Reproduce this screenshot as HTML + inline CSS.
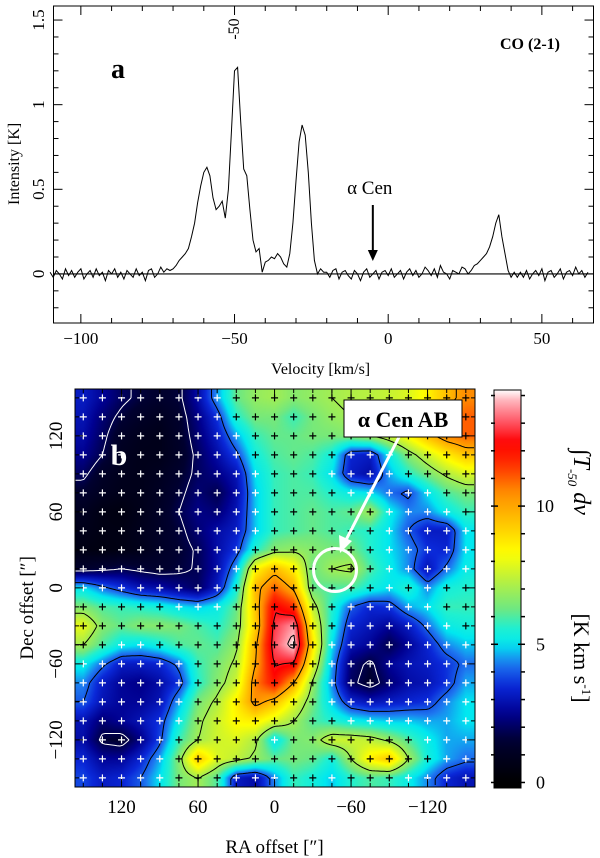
<!DOCTYPE html>
<html><head><meta charset="utf-8">
<style>
html,body{margin:0;padding:0;background:#fff;}
#wrap{position:relative;width:600px;height:858px;overflow:hidden;font-family:"Liberation Serif",serif;}
svg{position:absolute;left:0;top:0;}
canvas{position:absolute;}
</style></head>
<body>
<div id="wrap">
<canvas id="heat" width="400" height="398" style="left:75px;top:389px;width:400px;height:398px"></canvas>
<svg id="svg" width="600" height="858" viewBox="0 0 600 858"></svg>
</div>
<script>
// ---------- Spectrum data (velocity sampled every 1 km/s from -110) ----------
const velStart = -110;
const intensity = [
0.01,-0.02,0.02,0.0,-0.03,0.03,-0.01,0.02,-0.02,0.01,0.03,-0.03,0.0,0.02,-0.02,0.03,-0.01,0.01,-0.04,0.02,
0.0,0.03,-0.02,0.01,-0.03,0.02,0.0,-0.02,0.03,-0.01,0.01,-0.04,0.02,0.03,-0.02,0.0,0.04,0.01,0.03,0.02,
0.03,0.05,0.08,0.1,0.12,0.15,0.22,0.3,0.42,0.52,0.6,0.63,0.58,0.45,0.38,0.4,0.43,0.33,0.5,0.85,
1.2,1.22,0.9,0.62,0.58,0.38,0.2,0.13,0.15,0.01,
0.07,0.08,0.1,0.09,0.12,0.1,0.06,0.04,0.12,0.3,0.55,0.78,0.88,0.82,0.6,0.3,0.08,0.0,0.03,0.01,
0.01,-0.02,0.02,0.03,-0.03,0.01,0.02,-0.01,-0.03,0.02,0.0,-0.04,0.01,0.03,-0.02,0.0,0.02,-0.03,0.01,0.02,
-0.01,0.03,-0.02,0.0,0.02,-0.03,0.01,0.03,-0.01,0.02,-0.02,0.0,0.04,0.02,-0.01,0.03,-0.02,0.05,0.01,0.0,
-0.03,0.02,0.01,0.0,0.04,
0.03,0.0,0.02,0.05,0.06,0.08,0.1,0.12,0.16,0.22,0.3,0.35,0.22,0.12,0.02,-0.02,0.01,-0.02,
0.01,-0.02,0.02,-0.03,0.0,0.02,-0.01,0.03,-0.04,0.01,0.02,-0.02,0.0,0.03,-0.03,0.01,0.02,-0.01,0.04,0.0,0.02,-0.02,0.01
];
const xTicks = [-100,-50,0,50];
const yTicks = [0,0.5,1,1.5];
const yTickLabels = ["0","0.5","1","1.5"];

// ---------- Map data (rows Dec 150..-150, cols RA 150..-150, step 15") ----------
const raGrid = [150,135,120,105,90,75,60,45,30,15,0,-15,-30,-45,-60,-75,-90,-105,-120,-135,-150];
const decGrid = [150,135,120,105,90,75,60,45,30,15,0,-15,-30,-45,-60,-75,-90,-105,-120,-135,-150];
const mapValues = [
[3.2,2.6,2.0,1.6,1.4,1.6,2.8,4.5,6.2,6.8,7.0,6.6,6.8,7.0,7.2,7.3,7.5,7.8,8.5,9.5,10.5],
[3.0,2.2,1.6,1.2,1.0,1.4,2.4,3.6,5.6,6.4,6.4,5.8,6.4,6.8,7.0,7.2,7.6,8.2,9.2,10.5,11.0],
[2.8,2.0,1.2,0.9,0.8,1.3,2.2,3.2,4.6,5.8,6.2,6.2,6.4,6.4,6.6,7.0,7.6,8.4,9.6,10.6,11.0],
[2.5,1.8,1.0,0.8,0.8,1.2,2.0,2.8,3.8,5.4,6.0,6.2,6.0,5.4,3.4,3.2,5.2,6.6,7.6,8.6,9.4],
[2.0,1.2,0.9,0.8,1.0,1.4,2.0,2.4,3.0,5.0,5.8,6.0,5.8,5.0,3.2,2.8,4.6,5.6,6.4,7.2,7.8],
[1.4,1.0,0.8,0.8,1.1,1.6,2.2,1.8,2.8,4.8,5.8,6.0,6.0,5.6,5.2,5.0,4.2,3.8,5.0,6.0,6.4],
[1.0,0.6,0.5,0.8,1.2,1.8,2.4,2.2,3.0,4.8,5.8,6.0,6.2,6.0,6.2,7.0,5.2,4.4,4.4,5.2,5.8],
[0.8,0.6,0.6,0.9,1.2,1.6,2.2,2.8,3.2,4.8,5.8,6.0,6.2,6.0,5.8,5.6,5.0,4.0,3.2,3.2,5.0],
[0.6,0.5,0.6,0.8,1.2,1.5,1.9,2.8,3.6,5.6,6.6,6.8,6.6,6.4,6.4,5.6,5.0,4.4,3.6,3.4,5.0],
[1.4,1.6,1.8,1.6,1.4,1.6,1.9,2.8,4.6,8.4,9.6,8.6,6.2,7.0,7.2,6.0,5.2,4.4,3.0,4.2,5.2],
[5.0,4.2,3.6,3.0,2.8,2.4,2.0,3.2,5.4,9.6,11.0,9.8,6.2,6.0,6.0,5.4,5.0,5.6,4.4,5.4,5.6],
[6.5,6.0,5.8,5.6,5.4,5.0,4.8,5.2,6.2,9.4,12.4,11.6,7.4,5.6,4.0,3.4,3.6,4.6,5.0,5.8,5.8],
[8.0,6.6,6.2,6.6,6.6,6.4,6.0,5.6,6.4,9.2,12.8,13.6,8.2,5.4,3.4,3.0,2.6,3.2,4.2,5.2,5.4],
[7.0,6.0,5.2,5.0,5.4,6.0,6.2,6.0,6.8,9.8,13.0,14.2,8.8,5.0,3.0,2.6,1.8,2.6,3.4,4.4,4.8],
[5.2,4.2,3.2,3.2,3.4,4.2,5.8,6.4,7.2,10.0,12.6,12.4,8.0,4.6,2.2,1.6,2.6,3.0,3.2,3.6,4.2],
[4.4,3.2,2.6,2.4,2.8,3.6,5.6,6.6,7.6,10.6,12.0,10.0,6.8,4.4,2.0,1.4,2.2,2.8,3.0,3.6,4.6],
[4.0,3.0,2.6,2.6,3.0,4.6,6.4,7.2,8.6,10.4,9.6,8.0,6.4,4.8,3.4,3.0,3.2,3.4,3.6,4.4,5.0],
[3.0,2.2,2.6,3.0,3.6,5.2,6.8,7.6,8.4,8.6,7.8,7.0,6.0,5.6,5.2,5.0,4.8,4.8,4.6,4.6,5.0],
[2.8,1.6,1.4,2.4,3.8,5.8,7.0,7.6,7.8,7.2,5.0,6.4,6.6,7.6,7.6,7.4,6.8,6.0,5.2,4.6,4.6],
[3.4,2.6,2.6,3.4,4.6,6.6,9.4,7.8,7.4,6.8,6.2,6.4,6.2,5.4,7.0,8.6,9.4,7.0,5.4,4.6,4.2],
[3.8,3.2,3.4,4.0,5.0,6.4,7.0,6.0,3.2,2.8,4.4,5.8,5.4,4.8,5.6,6.0,5.8,5.2,4.4,3.4,3.0]
];
const blackLevels = [4, 7, 10, 12.5, 13.8];
const whiteLevels = [1.8];
const raTicks = [120,60,0,-60,-120];
const decTicks = [120,60,0,-60,-120];
const cbTicks = [0,5,10];

const NS = "http://www.w3.org/2000/svg";
const svg = document.getElementById('svg');
function mk(tag, attrs, parent, name, inter) {
  const e = document.createElementNS(NS, tag);
  for (const k in attrs) e.setAttribute(k, attrs[k]);
  
  
  (parent || svg).appendChild(e);
  return e;
}
function txt(x, y, s, attrs, name) {
  const t = mk('text', Object.assign({x: x, y: y, 'font-family': '"Liberation Serif",serif', 'font-size': 16, fill: '#000'}, attrs || {}), svg, name, false);
  t.textContent = s;
  return t;
}

// ================= Panel a: spectrum =================
const A = {l: 53.5, r: 593.5, t: 6, b: 323, vmin: -108.9, vmax: 66.8, imin: -0.29, imax: 1.583};
const xs = v => A.l + (v - A.vmin) / (A.vmax - A.vmin) * (A.r - A.l);
const ys = i => A.b - (i - A.imin) / (A.imax - A.imin) * (A.b - A.t);
mk('rect', {x: A.l, y: A.t, width: A.r - A.l, height: A.b - A.t, fill: 'none', stroke: '#000', 'stroke-width': 1}, svg, 'spectrum-frame', false);
for (let v = -100; v <= 65; v += 10) {
  const len = (v % 50 === 0) ? 9 : 5;
  mk('line', {x1: xs(v), x2: xs(v), y1: A.b, y2: A.b - len, stroke: '#000'}, svg, 'x-tick', false);
  mk('line', {x1: xs(v), x2: xs(v), y1: A.t, y2: A.t + len, stroke: '#000'}, svg, 'x-tick-top', false);
}
for (let k = -2; k <= 15; k++) {
  const i = k / 10, len = (k % 5 === 0) ? 9 : 5;
  mk('line', {x1: A.l, x2: A.l + len, y1: ys(i), y2: ys(i), stroke: '#000'}, svg, 'y-tick', false);
  mk('line', {x1: A.r, x2: A.r - len, y1: ys(i), y2: ys(i), stroke: '#000'}, svg, 'y-tick-right', false);
}
xTicks.forEach(v => txt(xs(v), 344, (v < 0 ? '\u2212' + (-v) : String(v)), {'text-anchor': 'middle', 'font-size': 17}, 'x-tick-label'));
yTicks.forEach((v, k) => txt(0, 0, yTickLabels[k], {'text-anchor': 'middle', transform: `translate(44,${ys(v)}) rotate(-90)`, 'font-size': 17}, 'y-tick-label'));
txt(0, 0, 'Intensity [K]', {'text-anchor': 'middle', transform: `translate(19,${ys(0.65)}) rotate(-90)`, 'font-size': 16}, 'y-axis-title');
txt(xs(-22), 374, 'Velocity   [km/s]', {'text-anchor': 'middle', 'font-size': 16, 'xml:space': 'preserve'}, 'x-axis-title');
mk('line', {x1: A.l, x2: A.r, y1: ys(0), y2: ys(0), stroke: '#000', 'stroke-width': 1.2}, svg, 'zero-baseline', false);
let d = '';
intensity.forEach((t, i) => { d += (i ? 'L' : 'M') + xs(velStart + i).toFixed(1) + ',' + ys(t).toFixed(1); });
mk('path', {d: d, fill: 'none', stroke: '#000', 'stroke-width': 1}, svg, 'spectrum-line', false);
txt(118, 78, 'a', {'font-weight': 'bold', 'font-size': 28, 'text-anchor': 'middle'}, 'panel-a-label');
txt(530, 49, 'CO (2-1)', {'font-weight': 'bold', 'font-size': 16, 'text-anchor': 'middle'}, 'line-label');
txt(0, 0, '-50', {'text-anchor': 'middle', transform: `translate(${xs(-50.5)+6},29) rotate(-90)`, 'font-size': 16}, 'peak-label');
txt(xs(-6), 194, '\u03b1 Cen', {'text-anchor': 'middle', 'font-size': 19}, 'alpha-cen-label');
mk('line', {x1: xs(-5), x2: xs(-5), y1: 205, y2: 252, stroke: '#000', 'stroke-width': 2}, svg, 'alpha-cen-arrow', false);
mk('path', {d: `M${xs(-5)-5},250 L${xs(-5)+5},250 L${xs(-5)},261 Z`, fill: '#000'}, svg, 'alpha-cen-arrowhead', false);

// ================= Panel b: map =================
const M = {l: 75, r: 475, t: 389, b: 787, ra0: 156.5, ra1: -157.2, de0: 157, de1: -157.2};
const mx = ra => M.l + (M.ra0 - ra) / (M.ra0 - M.ra1) * (M.r - M.l);
const my = de => M.t + (M.de0 - de) / (M.de0 - M.de1) * (M.b - M.t);
const stops = [[0,[0,0,0]],[1.5,[0,0,48]],[2.5,[0,0,144]],[3.5,[10,40,216]],[4.3,[30,120,240]],[5,[0,232,240]],[5.6,[32,240,208]],[6.3,[112,232,128]],[7.3,[184,240,64]],[8.3,[255,255,0]],[9.5,[255,192,0]],[10.5,[255,140,0]],[11.5,[255,48,0]],[12.3,[255,0,0]],[13,[255,80,96]],[13.8,[255,176,184]],[14.2,[255,255,255]]];
function cmap(v) {
  if (v <= stops[0][0]) return stops[0][1];
  for (let i = 1; i < stops.length; i++) {
    if (v <= stops[i][0]) {
      const a = stops[i-1], b = stops[i], f = (v - a[0]) / (b[0] - a[0]);
      return a[1].map((c, k) => Math.round(c + (b[1][k] - c) * f));
    }
  }
  return stops[stops.length-1][1];
}
function field(ra, de) {
  const n = raGrid.length - 1;
  let c = (raGrid[0] - ra) / (raGrid[0] - raGrid[n]) * n;
  let r = (decGrid[0] - de) / (decGrid[0] - decGrid[n]) * n;
  c = Math.max(0, Math.min(n, c)); r = Math.max(0, Math.min(n, r));
  const c0 = Math.min(n - 1, Math.floor(c)), r0 = Math.min(n - 1, Math.floor(r));
  const fc = c - c0, fr = r - r0;
  const v00 = mapValues[r0][c0], v01 = mapValues[r0][c0+1], v10 = mapValues[r0+1][c0], v11 = mapValues[r0+1][c0+1];
  return (v00*(1-fc) + v01*fc)*(1-fr) + (v10*(1-fc) + v11*fc)*fr;
}
const pxRa = px => M.ra0 - (px - M.l) / (M.r - M.l) * (M.ra0 - M.ra1);
const pxDe = py => M.de0 - (py - M.t) / (M.b - M.t) * (M.de0 - M.de1);
const cv = document.getElementById('heat'), ctx = cv.getContext('2d');
const img = ctx.createImageData(cv.width, cv.height);
for (let j = 0; j < cv.height; j++) for (let i = 0; i < cv.width; i++) {
  const col = cmap(field(pxRa(M.l + i + 0.5), pxDe(M.t + j + 0.5)));
  const p = (j * cv.width + i) * 4;
  img.data[p] = col[0]; img.data[p+1] = col[1]; img.data[p+2] = col[2]; img.data[p+3] = 255;
}
ctx.putImageData(img, 0, 0);

const step = 3;
const gx = [], gy = [];
for (let x = M.l; x <= M.r + 0.01; x += step) gx.push(x);
for (let y = M.t; y <= M.b + 0.01; y += step) gy.push(y);
const F = gy.map(y => gx.map(x => field(pxRa(x), pxDe(y))));
function contour(level, color, name) {
  let p = '';
  for (let j = 0; j < gy.length - 1; j++) for (let i = 0; i < gx.length - 1; i++) {
    const c = [[gx[i],gy[j],F[j][i]],[gx[i+1],gy[j],F[j][i+1]],[gx[i+1],gy[j+1],F[j+1][i+1]],[gx[i],gy[j+1],F[j+1][i]]];
    const pts = [];
    for (let e = 0; e < 4; e++) {
      const a = c[e], b = c[(e+1)%4];
      if ((a[2] - level) * (b[2] - level) < 0) {
        const f = (level - a[2]) / (b[2] - a[2]);
        pts.push([a[0] + (b[0]-a[0])*f, a[1] + (b[1]-a[1])*f]);
      }
    }
    for (let k = 0; k + 1 < pts.length; k += 2)
      p += `M${pts[k][0].toFixed(1)},${pts[k][1].toFixed(1)}L${pts[k+1][0].toFixed(1)},${pts[k+1][1].toFixed(1)}`;
  }
  mk('path', {d: p, fill: 'none', stroke: color, 'stroke-width': 1}, svg, name, false);
}
blackLevels.forEach(l => contour(l, '#000', 'contour-black'));
whiteLevels.forEach(l => contour(l, '#fff', 'contour-white'));

raGrid.forEach((ra, c) => decGrid.forEach((de, r) => {
  const x = mx(ra), y = my(de), col = mapValues[r][c] < 5.4 ? '#fff' : '#000';
  mk('path', {d: `M${x-3.5},${y}H${x+3.5}M${x},${y-3.5}V${y+3.5}`, stroke: col, 'stroke-width': 1.2}, svg, 'grid-cross', false);
}));

mk('rect', {x: M.l, y: M.t, width: M.r - M.l, height: M.b - M.t, fill: 'none', stroke: '#000', 'stroke-width': 1}, svg, 'map-frame', false);
for (let v = -150; v <= 150; v += 15) {
  const len = (v % 60 === 0) ? 8 : 4;
  mk('line', {x1: mx(v), x2: mx(v), y1: M.b, y2: M.b - len, stroke: '#000'}, svg, 'ra-tick', false);
  mk('line', {x1: mx(v), x2: mx(v), y1: M.t, y2: M.t + len, stroke: '#000'}, svg, 'ra-tick-top', false);
  mk('line', {x1: M.l, x2: M.l + len, y1: my(v), y2: my(v), stroke: '#000'}, svg, 'dec-tick', false);
  mk('line', {x1: M.r, x2: M.r - len, y1: my(v), y2: my(v), stroke: '#000'}, svg, 'dec-tick-right', false);
}
raTicks.forEach(v => txt(mx(v), 813, (v < 0 ? '\u2212' + (-v) : String(v)), {'text-anchor': 'middle', 'font-size': 19}, 'ra-tick-label'));
decTicks.forEach(v => txt(0, 0, (v < 0 ? '\u2212' + (-v) : String(v)), {'text-anchor': 'middle', transform: `translate(62,${my(v)}) rotate(-90)`, 'font-size': 19}, 'dec-tick-label'));
txt(mx(0), 853, 'RA  offset   [\u2033]', {'text-anchor': 'middle', 'font-size': 19, 'xml:space': 'preserve'}, 'ra-axis-title');
txt(0, 0, 'Dec  offset   [\u2033]', {'text-anchor': 'middle', transform: `translate(33,${my(0)+20}) rotate(-90)`, 'font-size': 19, 'xml:space': 'preserve'}, 'dec-axis-title');
txt(119, 465, 'b', {'font-weight': 'bold', 'font-size': 30, fill: '#fff', 'text-anchor': 'middle'}, 'panel-b-label');

mk('circle', {cx: 335, cy: 570, r: 21.5, fill: 'none', stroke: '#fff', 'stroke-width': 3}, svg, 'alpha-cen-circle', false);
mk('line', {x1: 399, y1: 437, x2: 346, y2: 540, stroke: '#fff', 'stroke-width': 3}, svg, 'alpha-cen-pointer', false);
mk('path', {d: 'M340,553 L339,535 L352,541 Z', fill: '#fff'}, svg, 'alpha-cen-pointer-head', false);
mk('rect', {x: 344, y: 400, width: 118, height: 37, fill: '#fff', stroke: '#000', 'stroke-width': 1}, svg, 'alpha-cen-label-box', false);
txt(403, 427, '\u03b1 Cen AB', {'text-anchor': 'middle', 'font-size': 22, 'font-weight': 'bold'}, 'alpha-cen-ab-label');

const CB = {l: 494, r: 521, t: 390, b: 788, v0: -0.2, v1: 14.2};
const cy = v => CB.b - (v - CB.v0) / (CB.v1 - CB.v0) * (CB.b - CB.t);
const defs = mk('defs', {}, svg, 'defs', false);
const grad = mk('linearGradient', {id: 'cbg', x1: 0, y1: 1, x2: 0, y2: 0}, defs, 'colorbar-gradient', false);
for (let k = 0; k <= 40; k++) {
  const v = CB.v0 + (CB.v1 - CB.v0) * k / 40, c = cmap(v);
  mk('stop', {offset: (k / 40).toFixed(3), 'stop-color': `rgb(${c[0]},${c[1]},${c[2]})`}, grad, 'gradient-stop', false);
}
mk('rect', {x: CB.l, y: CB.t, width: CB.r - CB.l, height: CB.b - CB.t, fill: 'url(#cbg)', stroke: '#000'}, svg, 'colorbar', false);
for (let v = 0; v <= 14; v++) {
  const len = (v % 5 === 0) ? 7 : 4;
  mk('line', {x1: CB.l - 3, x2: CB.l + len - 3, y1: cy(v), y2: cy(v), stroke: '#000', 'stroke-width': 1.5}, svg, 'colorbar-tick', false);
  mk('line', {x1: CB.r - len + 4, x2: CB.r + 4, y1: cy(v), y2: cy(v), stroke: '#000', 'stroke-width': 1.5}, svg, 'colorbar-tick-right', false);
}
cbTicks.forEach(v => txt(536, cy(v) + 6, String(v), {'font-size': 18}, 'colorbar-tick-label'));
const cbt = txt(0, 0, '', {transform: 'translate(574,482) rotate(90)', 'font-size': 24, 'text-anchor': 'middle', 'font-style': 'italic'}, 'colorbar-title');
cbt.innerHTML = '\u222BT<tspan font-size="13" dy="6">-50</tspan><tspan dy="-6"> dv</tspan>';
const cbu = txt(0, 0, '', {transform: 'translate(574,658) rotate(90)', 'font-size': 22, 'text-anchor': 'middle'}, 'colorbar-units');
cbu.innerHTML = '[K km s<tspan font-size="13" dy="-8">-1</tspan><tspan dy="8">]</tspan>';
</script>
</body></html>
